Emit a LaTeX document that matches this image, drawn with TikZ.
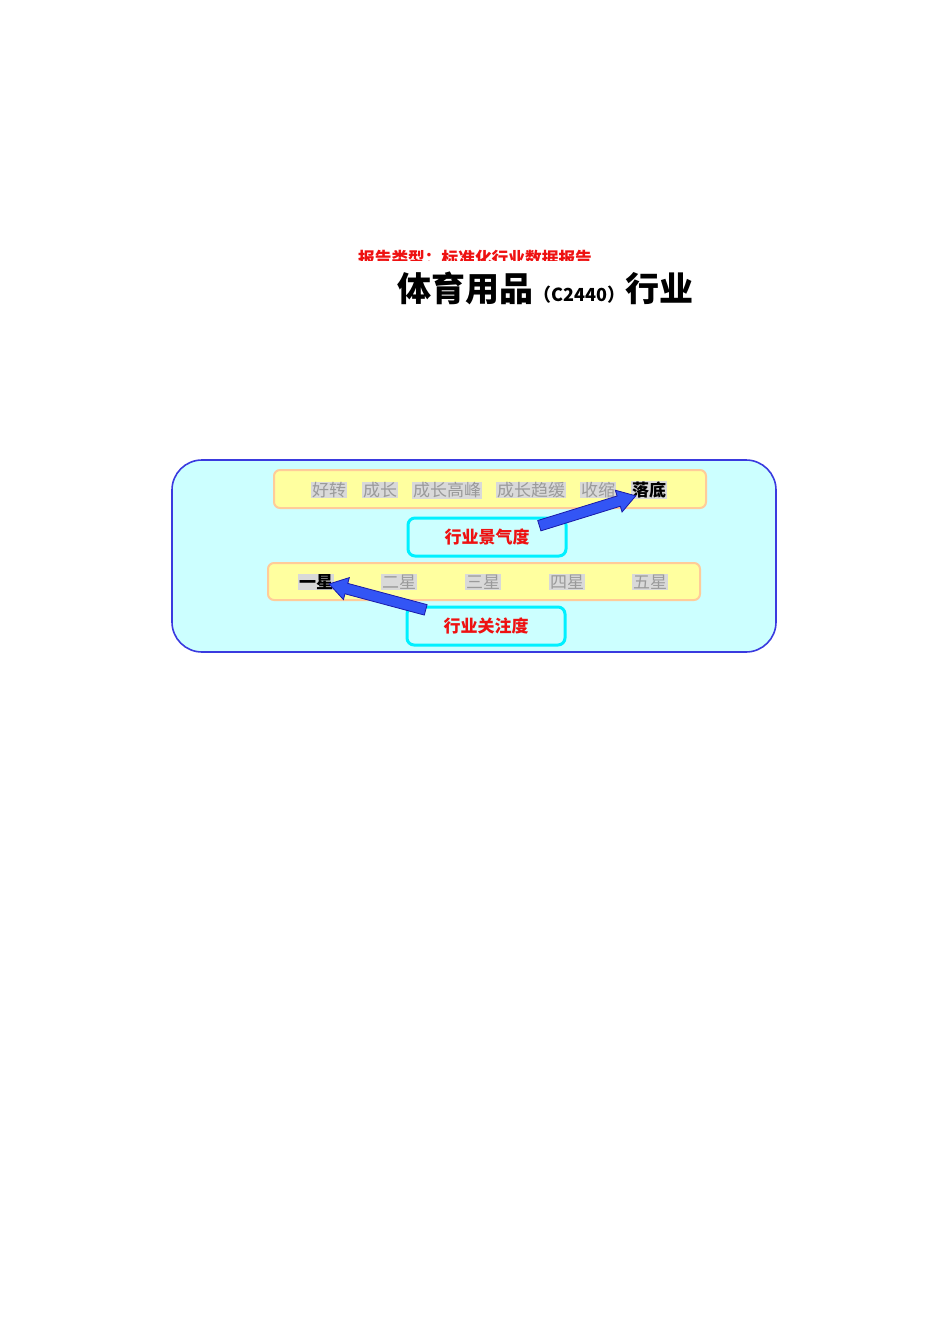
\documentclass[tikz,border=0pt]{standalone}
\usepackage{fontspec}
\usetikzlibrary{shapes.arrows,calc}
\newfontfamily\cjk{Noto Sans CJK SC}
\definecolor{panelfill}{HTML}{CCFFFF}
\definecolor{paneldraw}{HTML}{3A3ADF}
\definecolor{barfill}{HTML}{FFFF9F}
\definecolor{bardraw}{HTML}{FFCC99}
\definecolor{gaugedraw}{HTML}{00F0FF}
\definecolor{tagfill}{HTML}{D9D9D9}
\definecolor{tagtext}{HTML}{9A9A9A}
\definecolor{arrowfill}{HTML}{3355F5}
\definecolor{arrowdraw}{HTML}{1A1AA8}
\definecolor{hdred}{HTML}{EE1111}
\begin{document}
\begin{tikzpicture}[x=1pt,y=-1pt,
    tag/.style={fill=tagfill,text=tagtext,inner sep=0.6pt,font=\cjk\fontsize{17}{17}\selectfont},
    tagon/.style={tag,text=black,font=\cjk\bfseries\fontsize{17}{17}\selectfont},
    bar/.style={draw=bardraw,line width=2pt,fill=barfill,rounded corners=6pt},
    gauge/.style={draw=gaugedraw,line width=3pt,fill=panelfill,rounded corners=7pt,
      minimum width=158pt,minimum height=38pt,text=hdred,font=\cjk\bfseries\fontsize{17}{17}\selectfont},
    fatarrow/.style={single arrow,draw=arrowdraw,fill=arrowfill,line width=0.8pt,inner sep=5pt,
      single arrow head extend=6pt,single arrow tip angle=65}]
\useasboundingbox (0,0) rectangle (950,1344);
% header line, cut off at the bottom
\begin{scope}
  \clip (340,240) rectangle (620,260);
  \node[text=hdred,font=\cjk\bfseries\fontsize{16.7}{17}\selectfont] (kind) at (475,258) {报告类型：标准化行业数据报告};
\end{scope}
\node[font=\cjk\bfseries\fontsize{34}{34}\selectfont] (title) at (545.5,288)
  {体育用品{\fontsize{18}{18}\selectfont （C2440）}行业};
% panel
\draw[paneldraw,line width=1.6pt,fill=panelfill,rounded corners=30pt] (172,460) rectangle (776,652);
\draw[bar] (274,470) rectangle (706,508);
\draw[bar] (268,563) rectangle (700,600);
\node[gauge] (jingqi) at (487,537) {行业景气度};
\node[gauge] (guanzhu) at (486,626) {行业关注度};
% stages
\foreach \x/\t/\n in {329/好转/a,380/成长/b,447/成长高峰/c,531/成长趋缓/d,598/收缩/e}
  \node[tag] (st\n) at (\x,490) {\t};
\node[tagon] (stf) at (649,490) {落底};
% stars
\node[tagon] (xing1) at (316,582) {一星};
\foreach \x/\t [count=\i from 2] in {399/二星,483/三星,567/四星,650/五星}
  \node[tag] (xing\i) at (\x,582) {\t};
% arrows
\coordinate (a1) at (535,527);
\coordinate (b1) at (632,497);
\coordinate (a2) at (430,611);
\coordinate (b2) at (333,585);
\node[fatarrow,minimum height=101pt,rotate=17.2] at ($(a1)!0.5!(b1)$) {};
\node[fatarrow,minimum height=100pt,rotate=165] at ($(a2)!0.5!(b2)$) {};
\end{tikzpicture}
\end{document}
